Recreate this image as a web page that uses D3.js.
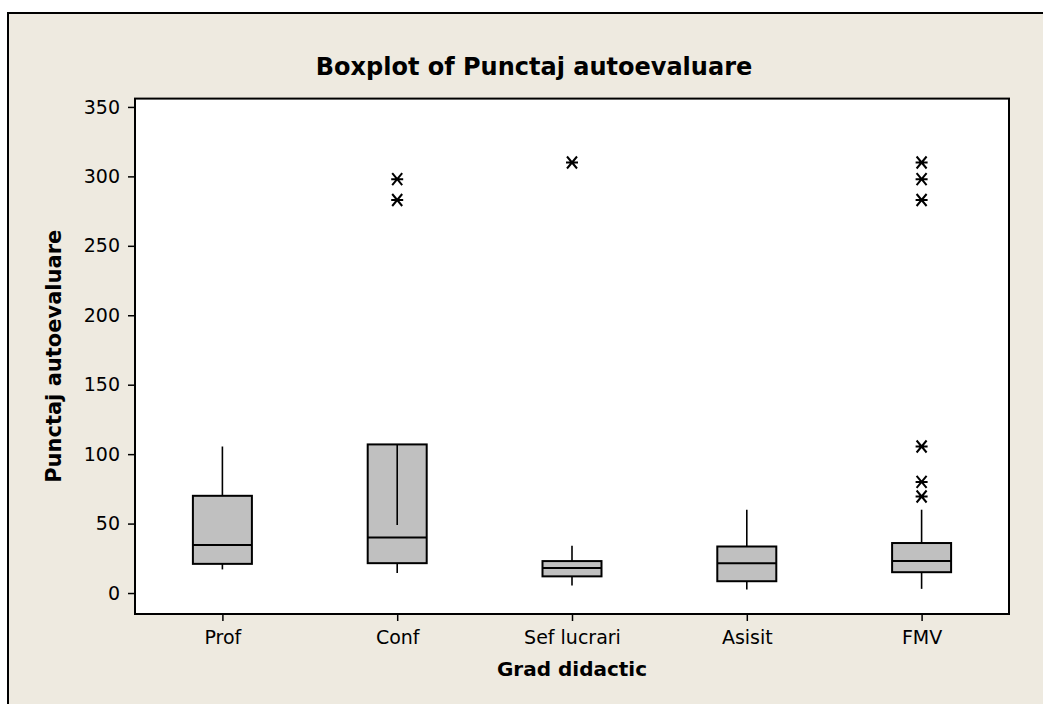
<!DOCTYPE html>
<html>
<head>
<meta charset="utf-8">
<script src="https://cdn.jsdelivr.net/npm/d3@7"></script>
<style>
    body { margin: 0; background: #ffffff; }
    .tick text { font-family: "DejaVu Sans", sans-serif; font-size: 19px; fill: #000; }
    .tick line { stroke: #000; stroke-width: 1.5; }
</style>
</head>
<body>
<svg id="chart" width="1043" height="704"></svg>
<script>
// data
var categories = ["Prof", "Conf", "Sef lucrari", "Asisit", "FMV"];
var whiskerLow = [17, 14.5, 5.5, 2.5, 3];
var q1 = [21, 21.5, 12, 8.5, 15];
var median = [34.5, 40, 18, 21.5, 23];
var q3 = [70, 107, 23, 33.5, 36];
var whiskerHigh = [105.5, 49, 34, 60, 60];
var outliers = [[], [298, 283], [310], [], [310, 298, 283, 105.5, 80, 69.5]];
var yTicks = [0, 50, 100, 150, 200, 250, 300, 350];

var svg = d3.select("#chart");
var plot = { left: 135, right: 1009, top: 98.6, bottom: 614 };
var boxWidth = 59;

// outer frame
svg.append("rect")
    .attr("x", 8).attr("y", 13)
    .attr("width", 1060).attr("height", 720)
    .attr("fill", "#eeeae0")
    .attr("stroke", "#000")
    .attr("stroke-width", 2);

// plot area
svg.append("rect")
    .attr("x", plot.left).attr("y", plot.top)
    .attr("width", plot.right - plot.left)
    .attr("height", plot.bottom - plot.top)
    .attr("fill", "#fff");

var x = d3.scalePoint()
    .domain(categories)
    .range([plot.left, plot.right])
    .padding(0.5);

var y = d3.scaleLinear()
    .domain([-15.1, 356])
    .range([plot.bottom, plot.top]);

// axes
svg.append("g")
    .attr("transform", "translate(" + plot.left + ",0)")
    .call(d3.axisLeft(y).tickValues(yTicks).tickSize(7).tickPadding(8))
    .call(function (g) { g.select(".domain").remove(); });

svg.append("g")
    .attr("transform", "translate(0," + plot.bottom + ")")
    .call(d3.axisBottom(x).tickSize(7).tickPadding(10))
    .call(function (g) { g.select(".domain").remove(); });

var rows = categories.map(function (c, i) {
    return { cat: c, lo: whiskerLow[i], q1: q1[i], med: median[i], q3: q3[i], hi: whiskerHigh[i], out: outliers[i] };
});

var boxes = svg.append("g").selectAll("g")
    .data(rows)
    .enter().append("g");

boxes.append("rect")
    .attr("x", function (d) { return x(d.cat) - boxWidth / 2; })
    .attr("y", function (d) { return y(d.q3); })
    .attr("width", boxWidth)
    .attr("height", function (d) { return y(d.q1) - y(d.q3); })
    .attr("fill", "#c0c0c0")
    .attr("stroke", "#000")
    .attr("stroke-width", 2);

boxes.append("line")
    .attr("x1", function (d) { return x(d.cat) - boxWidth / 2; })
    .attr("x2", function (d) { return x(d.cat) + boxWidth / 2; })
    .attr("y1", function (d) { return y(d.med); })
    .attr("y2", function (d) { return y(d.med); })
    .attr("stroke", "#000")
    .attr("stroke-width", 2);

// whiskers (upper one of Conf goes back inside the box, as in Minitab)
boxes.append("line")
    .attr("x1", function (d) { return x(d.cat); })
    .attr("x2", function (d) { return x(d.cat); })
    .attr("y1", function (d) { return y(d.q3); })
    .attr("y2", function (d) { return y(d.hi); })
    .attr("stroke", "#000")
    .attr("stroke-width", 1.6);

boxes.append("line")
    .attr("x1", function (d) { return x(d.cat); })
    .attr("x2", function (d) { return x(d.cat); })
    .attr("y1", function (d) { return y(d.q1); })
    .attr("y2", function (d) { return y(d.lo); })
    .attr("stroke", "#000")
    .attr("stroke-width", 1.6);

// outliers as asterisks
var star = "M-6,0H6M-5,-6L5,6M-5,6L5,-6";
boxes.selectAll("path")
    .data(function (d) { return d.out.map(function (v) { return { cat: d.cat, v: v }; }); })
    .enter().append("path")
    .attr("d", star)
    .attr("transform", function (d) { return "translate(" + x(d.cat) + "," + y(d.v) + ")"; })
    .attr("fill", "none")
    .attr("stroke", "#000")
    .attr("stroke-width", 2);

// plot border
svg.append("rect")
    .attr("x", plot.left).attr("y", plot.top)
    .attr("width", plot.right - plot.left)
    .attr("height", plot.bottom - plot.top)
    .attr("fill", "none")
    .attr("stroke", "#000")
    .attr("stroke-width", 2);

// titles
svg.append("text")
    .attr("x", 534).attr("y", 75)
    .attr("text-anchor", "middle")
    .attr("font-family", "DejaVu Sans, sans-serif")
    .attr("font-weight", "bold")
    .attr("font-size", 24)
    .text("Boxplot of Punctaj autoevaluare");

svg.append("text")
    .attr("x", x("Sef lucrari")).attr("y", 676)
    .attr("text-anchor", "middle")
    .attr("font-family", "DejaVu Sans, sans-serif")
    .attr("font-weight", "bold")
    .attr("font-size", 20)
    .text("Grad didactic");

svg.append("text")
    .attr("transform", "translate(61," + ((plot.top + plot.bottom) / 2) + ") rotate(-90)")
    .attr("text-anchor", "middle")
    .attr("font-family", "DejaVu Sans, sans-serif")
    .attr("font-weight", "bold")
    .attr("font-size", 21)
    .text("Punctaj autoevaluare");
</script>
</body>
</html>
